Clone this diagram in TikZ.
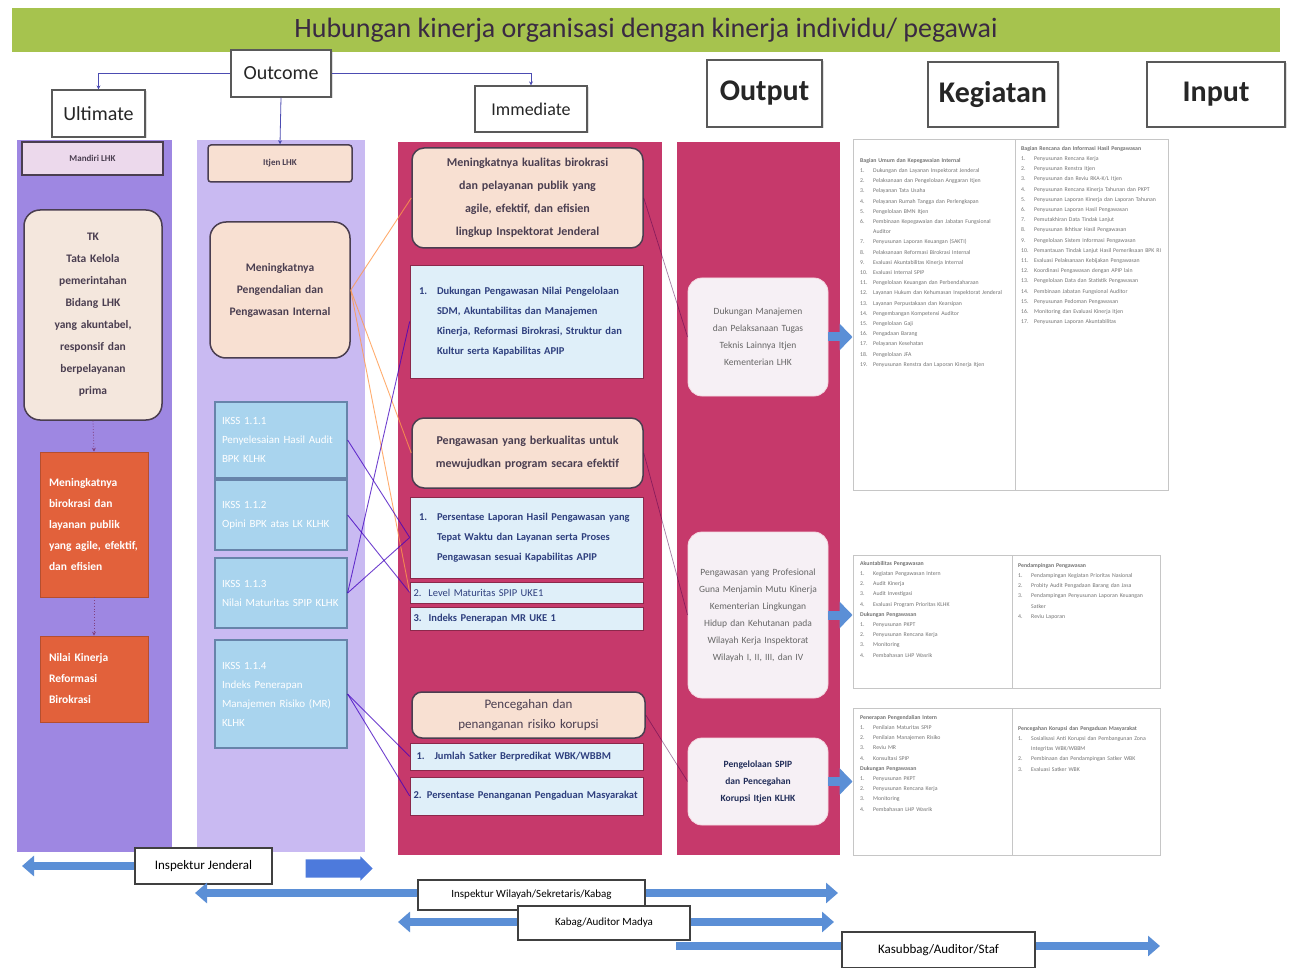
\documentclass[tikz,border=0pt]{standalone}
\usepackage{fontspec}
\setmainfont{Carlito}
\usetikzlibrary{arrows.meta,shapes.arrows,calc,shadows}
\hyphenpenalty=10000
\exhyphenpenalty=10000
\definecolor{titlegreen}{HTML}{A6C34E}
\definecolor{titletext}{HTML}{3A2A42}
\definecolor{colA}{HTML}{9E87E2}
\definecolor{colB}{HTML}{C9BAF2}
\definecolor{crim}{HTML}{C6396B}
\definecolor{peach}{HTML}{F8E0D2}
\definecolor{cream}{HTML}{F4E7DD}
\definecolor{orng}{HTML}{E2613B}
\definecolor{lblue}{HTML}{A9D4EE}
\definecolor{lbord}{HTML}{6784AA}
\definecolor{listbg}{HTML}{DFEFF9}
\definecolor{navy}{HTML}{2E3F7E}
\definecolor{outbg}{HTML}{F6F0F5}
\definecolor{arrblue}{HTML}{5B8FD6}
\definecolor{dk}{HTML}{4A3E50}
\newcommand\setfs[2]{\fontsize{#1}{#2}\selectfont}
\newcommand\mitem[2]{\hangindent=18pt\hangafter=1\noindent\makebox[18pt][l]{#1}#2\par}
\newcommand\titem[2]{\hangindent=13pt\hangafter=1\noindent\makebox[13pt][l]{#1}#2\par}
\newcommand\thead[1]{\noindent{\bfseries #1}\par}
\begin{document}
\begin{tikzpicture}[x=1pt,y=-1pt,
  hdr/.style={draw=black!65, line width=1.2pt, fill=white, inner sep=0pt, text=black!85, drop shadow={opacity=0.25,shadow xshift=1.5pt,shadow yshift=-1.5pt}},
  conn/.style={draw=gray!60!blue, line width=0.8pt, -{Stealth[length=4pt,width=4pt]}},
  dconn/.style={draw=violet!50!gray, line width=0.8pt, dotted, -{Stealth[length=4pt,width=4pt]}},
  rbox/.style={rounded corners=16pt, draw=dk, line width=1.5pt, inner sep=0pt, align=center, text=dk, font=\bfseries\setfs{11.5}{22}},
  obox/.style={fill=orng, draw=orng!80!black, line width=0.6pt, text=white, align=left, font=\bfseries\setfs{11.5}{21}, inner sep=0pt},
  bbox/.style={fill=lblue, draw=lbord, line width=1.2pt, text=white, align=left, font=\setfs{11}{19}, inner sep=0pt},
  lbox/.style={fill=listbg, draw=crim!70!black, line width=0.6pt, text=navy, align=left, font=\bfseries\setfs{10.5}{20}, inner sep=0pt},
  pbox/.style={fill=outbg, rounded corners=14pt, draw=white!80!crim, line width=0.8pt, align=center, text=black!60, font=\setfs{9.5}{17}, inner sep=0pt},
  tbl/.style={draw=gray!45, line width=1pt, fill=white, inner sep=0pt},
  ttext/.style={anchor=north west, align=left, text=black!55, font=\setfs{5.8}{10.2}, inner sep=0pt},
  xo/.style={draw=orange!60!pink, line width=0.9pt, opacity=0.8},
  xb/.style={draw=blue!50!violet, line width=0.9pt, opacity=0.75},
  xd/.style={draw=violet!60!black, line width=0.7pt, opacity=0.5},
  chev/.style={draw=arrblue, line width=9pt, -{Triangle[length=13pt,width=26pt]}},
  big/.style={draw=arrblue, line width=8pt, -{Triangle[length=12pt,width=20pt]}},
  bigflat/.style={draw=arrblue, line width=8pt},
  pers/.style={draw=black!75, line width=1.2pt, fill=white, inner sep=0pt, text=black, font=\setfs{13}{15}}
]
\useasboundingbox (0,0) rectangle (1291,968);
\fill[white] (0,0) rectangle (1291,968);

% title
\node[fill=titlegreen, minimum width=1268pt, minimum height=44pt, inner sep=0pt, text=titletext, font=\setfs{28}{30}] (title) at (646,30) {Hubungan kinerja organisasi dengan kinerja individu/ pegawai};

% column backgrounds
\node[fill=colA, minimum width=155pt, minimum height=712pt, inner sep=0pt] (col1) at (94.5,496) {};
\node[fill=colB, minimum width=168pt, minimum height=712pt, inner sep=0pt] (col2) at (281,496) {};
\node[fill=crim, minimum width=264pt, minimum height=713pt, inner sep=0pt] (col3) at (530,498.5) {};
\node[fill=crim, minimum width=163pt, minimum height=713pt, inner sep=0pt] (col4) at (758.5,498.5) {};

% header boxes
\node[hdr, minimum width=100pt, minimum height=47pt, font=\setfs{20}{22}] (outcome) at (281,73.5) {Outcome};
\node[hdr, minimum width=93pt, minimum height=47pt, font=\setfs{20}{22}] (ultimate) at (98.5,113.5) {Ultimate};
\node[hdr, minimum width=112pt, minimum height=46pt, font=\setfs{18}{20}] (immediate) at (531,109) {Immediate};
\node[hdr, minimum width=115pt, minimum height=67pt, font=\bfseries\setfs{30}{32}] (output) at (764.5,93.5) {Output};
\node[hdr, minimum width=130pt, minimum height=65pt, font=\bfseries\setfs{30}{32}] (kegiatan) at (993,94.5) {Kegiatan};
\node[hdr, minimum width=138pt, minimum height=65pt, font=\bfseries\setfs{30}{32}] (input) at (1216,94.5) {Input};

% column 1 (Ultimate)
\node[fill=white!85!violet, draw=dk, line width=1.5pt, minimum width=141pt, minimum height=33pt, inner sep=0pt, text=dk, font=\bfseries\setfs{9}{10}] (u1hdr) at (92.5,158.5) {Mandiri LHK};
\node[rbox, fill=cream, minimum width=138pt, minimum height=210pt, text width=96pt] (u1r) at (93,315) {TK\\Tata Kelola pemerintahan Bidang LHK yang akuntabel, responsif dan berpelayanan prima};
\node[obox, minimum width=108pt, minimum height=145pt, text width=90pt] (u1o1) at (94,524.5) {Meningkatnya birokrasi dan layanan publik yang agile, efektif, dan efisien};
\node[obox, minimum width=108pt, minimum height=86pt, text width=90pt] (u1o2) at (94,679) {Nilai Kinerja Reformasi Birokrasi};
\draw[dconn] (u1r.south) -- (u1o1.north);
\draw[dconn] (u1o1.south) -- (u1o2.north);

% column 2 (Outcome)
\node[fill=peach, draw=dk, line width=1.5pt, rounded corners=3pt, minimum width=144pt, minimum height=37pt, inner sep=0pt, text=dk, font=\bfseries\setfs{9}{10}] (o2hdr) at (280,163.5) {Itjen LHK};
\node[rbox, fill=peach, minimum width=140pt, minimum height=136pt, text width=108pt] (o2r) at (280,290) {Meningkatnya Pengendalian dan Pengawasan Internal};
\node[bbox, minimum width=132pt, minimum height=76pt, text width=118pt] (b1) at (281,440) {IKSS 1.1.1\\Penyelesaian Hasil Audit BPK KLHK};
\node[bbox, minimum width=132pt, minimum height=70pt, text width=118pt] (b2) at (281,515) {IKSS 1.1.2\\Opini BPK atas LK KLHK};
\node[bbox, minimum width=132pt, minimum height=70pt, text width=118pt] (b3) at (281,593) {IKSS 1.1.3\\Nilai Maturitas SPIP KLHK};
\node[bbox, minimum width=132pt, minimum height=108pt, text width=118pt] (b4) at (281,694) {IKSS 1.1.4\\Indeks Penerapan Manajemen Risiko (MR) KLHK};

% column 3 (Immediate)
\node[rbox, rounded corners=12pt, fill=peach, minimum width=231pt, minimum height=100pt, text width=196pt, font=\bfseries\setfs{12}{23}] (i1) at (527.5,198) {Meningkatnya kualitas birokrasi dan pelayanan publik yang agile, efektif, dan efisien lingkup Inspektorat Jenderal};
\node[lbox, minimum width=233pt, minimum height=113pt, text width=215pt] (l1) at (526.5,321.5) {\mitem{1.}{Dukungan Pengawasan Nilai Pengelolaan SDM, Akuntabilitas dan Manajemen Kinerja, Reformasi Birokrasi, Struktur dan Kultur serta Kapabilitas APIP}};
\node[rbox, rounded corners=12pt, fill=peach, minimum width=231pt, minimum height=70pt, text width=205pt, font=\bfseries\setfs{12}{23}] (i2) at (527.5,453) {Pengawasan yang berkualitas untuk mewujudkan program secara efektif};
\node[lbox, minimum width=233pt, minimum height=81pt, text width=215pt] (l2) at (526.5,537.5) {\mitem{1.}{Persentase Laporan Hasil Pengawasan yang Tepat Waktu dan Layanan serta Proses Pengawasan sesuai Kapabilitas APIP}};
\node[lbox, minimum width=233pt, minimum height=21pt, text width=226pt, font=\setfs{10.5}{12}] (l2b) at (526.5,592.5) {2.\ \ Level Maturitas SPIP UKE1};
\node[lbox, minimum width=233pt, minimum height=23pt, text width=226pt, font=\bfseries\setfs{10.5}{12}] (l2c) at (526.5,618.5) {3.\ \ Indeks Penerapan MR UKE 1};
\node[rbox, rounded corners=10pt, fill=peach, minimum width=233pt, minimum height=46pt, text width=210pt, font=\setfs{13}{20}] (i3) at (528.5,715) {Pencegahan dan penanganan risiko korupsi};
\node[lbox, minimum width=233pt, minimum height=27pt, text width=220pt, font=\bfseries\setfs{10.5}{12}] (l3a) at (526.5,756.5) {\mitem{1.}{Jumlah Satker Berpredikat WBK/WBBM}};
\node[lbox, minimum width=233pt, minimum height=38pt, text width=226pt, font=\bfseries\setfs{10.5}{18}] (l3b) at (526.5,796) {2. Persentase Penanganan Pengaduan Masyarakat};

% column 4 (Output)
\node[pbox, minimum width=140pt, minimum height=118pt, text width=108pt] (p1) at (758,337) {Dukungan Manajemen dan Pelaksanaan Tugas Teknis Lainnya Itjen Kementerian LHK};
\node[pbox, minimum width=140pt, minimum height=166pt, text width=118pt] (p2) at (758,615) {Pengawasan yang Profesional Guna Menjamin Mutu Kinerja Kementerian Lingkungan Hidup dan Kehutanan pada Wilayah Kerja Inspektorat Wilayah I, II, III, dan IV};
\node[pbox, minimum width=140pt, minimum height=87pt, text width=112pt, text=navy!70!black, font=\bfseries\setfs{9.5}{17}] (p3) at (758,781.5) {Pengelolaan SPIP dan Pencegahan Korupsi Itjen KLHK};

% header connectors
\draw[conn] (outcome.west) -| (ultimate.north);
\draw[conn] (outcome.east) -| (immediate.north);
\draw[conn] (outcome.south) -- (o2hdr.north);

% cross connectors col2 -> col3
\draw[xo] (o2r.east) -- (i1.west);
\draw[xo] (o2r.east) -- (i2.west);
\draw[xo] (o2r.east) -- (l2b.west);
\draw[xb] (b1.east) -- (l2.west);
\draw[xb] (b2.east) -- (l2b.west);
\draw[xb] (b3.east) -- (l1.west);
\draw[xb] (b3.east) -- (l2.west);
\draw[xb] (b4.east) -- (l3a.west);
\draw[xb] (b4.east) -- (l3b.west);
% col3 -> col4
\draw[xd] (i1.east) -- (p1.west);
\draw[xd] (i2.east) -- (p2.west);
\draw[xd] (i3.east) -- (p3.west);

% tables
\node[tbl, minimum width=315pt, minimum height=350pt] (t1) at (1010.5,315) {};
\node[tbl, minimum width=307pt, minimum height=133pt] (t2) at (1006.5,621.5) {};
\node[tbl, minimum width=307pt, minimum height=147pt] (t3) at (1006.5,781.5) {};
\draw[gray!45, line width=1pt] (1015,140) -- (1015,490);
\draw[gray!45, line width=1pt] (1012,555) -- (1012,688);
\draw[gray!45, line width=1pt] (1012,708) -- (1012,855);

\node[ttext, text width=150pt] (t1l) at (860,158) {%
\thead{Bagian Umum dan Kepegawaian Internal}
\titem{1.}{Dukungan dan Layanan Inspektorat Jenderal}
\titem{2.}{Pelaksanaan dan Pengelolaan Anggaran Itjen}
\titem{3.}{Pelayanan Tata Usaha}
\titem{4.}{Pelayanan Rumah Tangga dan Perlengkapan}
\titem{5.}{Pengelolaan BMN Itjen}
\titem{6.}{Pembinaan Kepegawaian dan Jabatan Fungsional Auditor}
\titem{7.}{Penyusunan Laporan Keuangan (SAKTI)}
\titem{8.}{Pelaksanaan Reformasi Birokrasi Internal}
\titem{9.}{Evaluasi Akuntabilitas Kinerja Internal}
\titem{10.}{Evaluasi Internal SPIP}
\titem{11.}{Pengelolaan Keuangan dan Perbendaharaan}
\titem{12.}{Layanan Hukum dan Kehumasan Inspektorat Jenderal}
\titem{13.}{Layanan Perpustakaan dan Kearsipan}
\titem{14.}{Pengembangan Kompetensi Auditor}
\titem{15.}{Pengelolaan Gaji}
\titem{16.}{Pengadaan Barang}
\titem{17.}{Pelayanan Kesehatan}
\titem{18.}{Pengelolaan JFA}
\titem{19.}{Penyusunan Renstra dan Laporan Kinerja Itjen}};
\node[ttext, text width=143pt] (t1r) at (1021,146) {%
\thead{Bagian Rencana dan Informasi Hasil Pengawasan}
\titem{1.}{Penyusunan Rencana Kerja}
\titem{2.}{Penyusunan Renstra Itjen}
\titem{3.}{Penyusunan dan Reviu RKA-K/L Itjen}
\titem{4.}{Penyusunan Rencana Kinerja Tahunan dan PKPT}
\titem{5.}{Penyusunan Laporan Kinerja dan Laporan Tahunan}
\titem{6.}{Penyusunan Laporan Hasil Pengawasan}
\titem{7.}{Pemutakhiran Data Tindak Lanjut}
\titem{8.}{Penyusunan Ikhtisar Hasil Pengawasan}
\titem{9.}{Pengelolaan Sistem Informasi Pengawasan}
\titem{10.}{Pemantauan Tindak Lanjut Hasil Pemeriksaan BPK RI}
\titem{11.}{Evaluasi Pelaksanaan Kebijakan Pengawasan}
\titem{12.}{Koordinasi Pengawasan dengan APIP lain}
\titem{13.}{Pengelolaan Data dan Statistik Pengawasan}
\titem{14.}{Pembinaan Jabatan Fungsional Auditor}
\titem{15.}{Penyusunan Pedoman Pengawasan}
\titem{16.}{Monitoring dan Evaluasi Kinerja Itjen}
\titem{17.}{Penyusunan Laporan Akuntabilitas}};

\node[ttext, text width=148pt] (t2l) at (860,561) {%
\thead{Akuntabilitas Pengawasan}
\titem{1.}{Kegiatan Pengawasan Intern}
\titem{2.}{Audit Kinerja}
\titem{3.}{Audit Investigasi}
\titem{4.}{Evaluasi Program Prioritas KLHK}
\thead{Dukungan Pengawasan}
\titem{1.}{Penyusunan PKPT}
\titem{2.}{Penyusunan Rencana Kerja}
\titem{3.}{Monitoring}
\titem{4.}{Pembahasan LHP Wasrik}};
\node[ttext, text width=140pt] (t2r) at (1018,563) {%
\thead{Pendampingan Pengawasan}
\titem{1.}{Pendampingan Kegiatan Prioritas Nasional}
\titem{2.}{Probity Audit Pengadaan Barang dan Jasa}
\titem{3.}{Pendampingan Penyusunan Laporan Keuangan Satker}
\titem{4.}{Reviu Laporan}};

\node[ttext, text width=148pt] (t3l) at (860,715) {%
\thead{Penerapan Pengendalian Intern}
\titem{1.}{Penilaian Maturitas SPIP}
\titem{2.}{Penilaian Manajemen Risiko}
\titem{3.}{Reviu MR}
\titem{4.}{Konsultasi SPIP}
\thead{Dukungan Pengawasan}
\titem{1.}{Penyusunan PKPT}
\titem{2.}{Penyusunan Rencana Kerja}
\titem{3.}{Monitoring}
\titem{4.}{Pembahasan LHP Wasrik}};
\node[ttext, text width=140pt] (t3r) at (1018,726) {%
\thead{Pencegahan Korupsi dan Pengaduan Masyarakat}
\titem{1.}{Sosialisasi Anti Korupsi dan Pembangunan Zona Integritas WBK/WBBM}
\titem{2.}{Pembinaan dan Pendampingan Satker WBK}
\titem{3.}{Evaluasi Satker WBK}};

% chevrons output -> tables
\draw[chev] (p1.east) -- (p1.east -| t1.west);
\draw[chev] (p2.east) -- (p2.east -| t2.west);
\draw[chev] (p3.east) -- (p3.east -| t3.west);

% bottom: roles
\node[pers] (insp) at (203.5,866) [minimum width=137pt, minimum height=36pt] {Inspektur Jenderal};
\coordinate (aL0) at (22,866);
\draw[big] (insp.west) -- (aL0);
\node[single arrow, fill=arrblue!85!blue, minimum height=67pt, single arrow head extend=3pt, inner xsep=0pt, inner ysep=9pt] (arr0) at (334.5,868.5) {};

\node[pers, minimum width=227pt, minimum height=30pt, font=\setfs{11}{13}] (sek) at (531.5,895) {Inspektur Wilayah/Sekretaris/Kabag};
\coordinate (aL1) at (195,893);
\coordinate (aR1) at (838,893);
\draw[big] (sek.west |- aL1) -- (aL1);
\draw[big] (sek.east |- aR1) -- (aR1);

\node[pers, minimum width=172pt, minimum height=34pt, font=\setfs{11}{13}] (kab) at (604,923) {Kabag/Auditor Madya};
\coordinate (aL2) at (398,922);
\coordinate (aR2) at (834,922);
\draw[big] (kab.west |- aL2) -- (aL2);
\draw[big] (kab.east |- aR2) -- (aR2);

\node[pers, minimum width=193pt, minimum height=36pt, font=\setfs{13}{15}] (kas) at (938.5,950) {Kasubbag/Auditor/Staf};
\coordinate (aL3) at (676,946);
\coordinate (aR3) at (1160,946);
\draw[bigflat] (kas.west |- aL3) -- (aL3);
\draw[big] (kas.east |- aR3) -- (aR3);
\end{tikzpicture}
\end{document}
